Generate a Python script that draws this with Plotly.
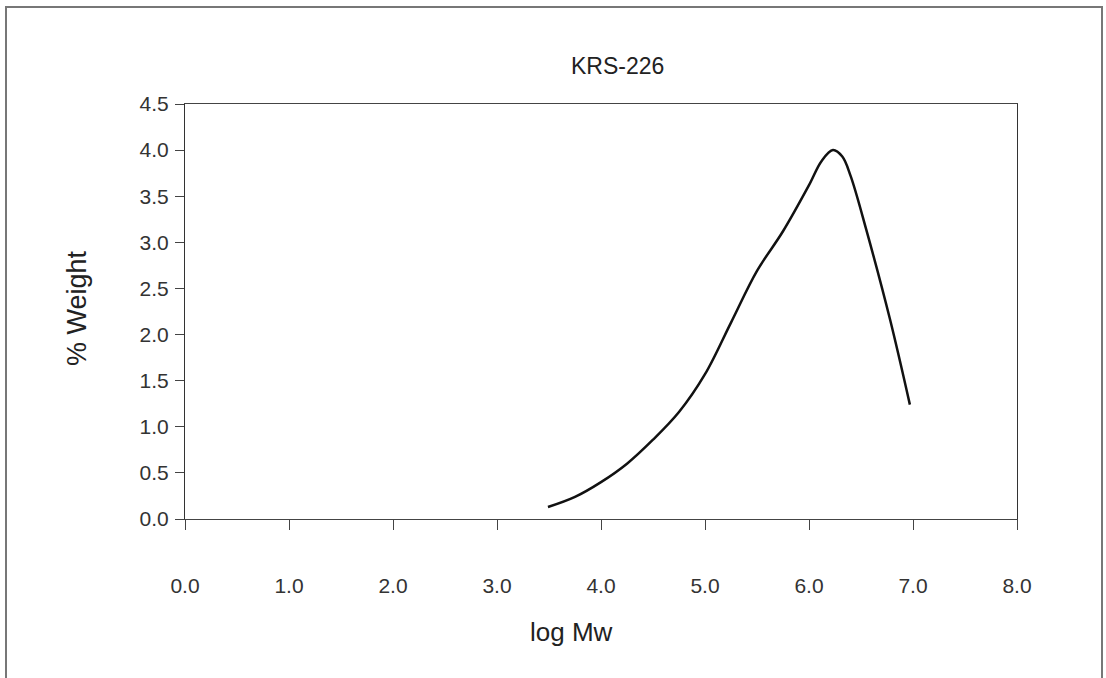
import plotly.graph_objects as go

log_mw = [3.49, 3.75, 4.00, 4.25, 4.50, 4.75, 5.00, 5.25, 5.50, 5.75, 6.00, 6.12, 6.23, 6.32, 6.40, 6.55, 6.78, 6.97]
pct_weight = [0.13, 0.24, 0.40, 0.60, 0.86, 1.16, 1.57, 2.13, 2.69, 3.12, 3.62, 3.88, 4.00, 3.93, 3.72, 3.14, 2.16, 1.24]

x_ticks = [0, 1, 2, 3, 4, 5, 6, 7, 8]
y_ticks = [0, 0.5, 1.0, 1.5, 2.0, 2.5, 3.0, 3.5, 4.0, 4.5]

FONT = "Liberation Sans, Arial, sans-serif"

fig = go.Figure()
fig.add_trace(go.Scatter(
    x=log_mw, y=pct_weight, mode="lines",
    line=dict(color="#111111", width=2.5, shape="spline", smoothing=1.0),
    showlegend=False, hoverinfo="skip",
))

W, H = 1106, 678
L, R, T, B = 185, 1017, 104, 519

fig.update_layout(
    width=W, height=H,
    margin=dict(l=L, r=W - R, t=T, b=H - B, autoexpand=False),
    paper_bgcolor="white", plot_bgcolor="white",
    font=dict(family=FONT, color="#333333"),
    showlegend=False,
)

fig.update_xaxes(
    range=[0, 8], tickvals=x_ticks, tickformat=".1f",
    ticks="outside", ticklen=10, tickwidth=1, tickcolor="#444444",
    showline=True, linecolor="#444444", linewidth=1, mirror=True,
    showgrid=False, zeroline=False,
    tickfont=dict(size=21, family=FONT, color="#333333"),
    ticklabelstandoff=38,
)
fig.update_yaxes(
    range=[0, 4.5], tickvals=y_ticks, tickformat=".1f",
    ticks="outside", ticklen=9, tickwidth=1, tickcolor="#444444",
    showline=True, linecolor="#333333", linewidth=1, mirror=True,
    showgrid=False, zeroline=False,
    tickfont=dict(size=21, family=FONT, color="#333333"),
    ticklabelstandoff=2,
)

def px_x(px):
    return (px - L) / (R - L)

def px_y(py):
    return (B - py) / (B - T)

annotations = [
    dict(text="KRS-226", x=px_x(617), y=px_y(66), xref="paper", yref="paper",
         showarrow=False, xanchor="center", yanchor="middle",
         font=dict(size=23, family=FONT, color="#222222")),
    dict(text="log Mw", x=px_x(571), y=px_y(632), xref="paper", yref="paper",
         showarrow=False, xanchor="center", yanchor="middle",
         font=dict(size=26, family=FONT, color="#222222")),
    dict(text="% Weight", x=px_x(77), y=px_y(308), xref="paper", yref="paper",
         showarrow=False, xanchor="center", yanchor="middle", textangle=-90,
         font=dict(size=27, family=FONT, color="#222222")),
]
fig.update_layout(annotations=annotations)

fig.add_shape(type="rect", xref="paper", yref="paper",
              x0=px_x(6), x1=px_x(1102), y0=px_y(690), y1=px_y(7),
              line=dict(color="#777777", width=2), fillcolor="rgba(0,0,0,0)", layer="below")

fig.write_html("out.html", config={"displayModeBar": False},
               post_script="document.body.style.margin='0';document.body.style.overflow='hidden';")
